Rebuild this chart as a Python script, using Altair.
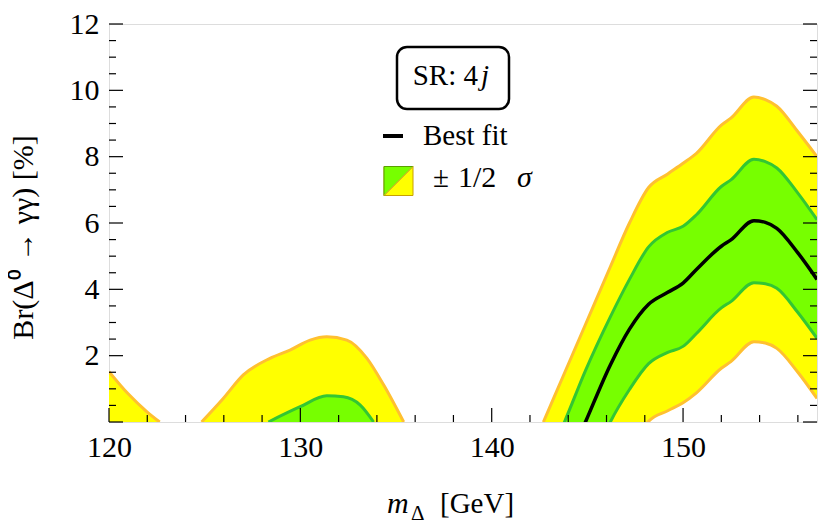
import altair as alt
import pandas as pd

# ---------------- data ----------------
# right-hand band region (common x grid)
xr = [142.7, 143.8, 144.9, 146.2, 147.2, 148.2, 149.2, 150.0, 150.7, 152.0, 152.5, 153.7, 154.3, 154.9, 156.0, 157.0]
ou_r = [0.0, 1.47, 2.94, 4.68, 6.0, 7.07, 7.48, 7.8, 8.1, 8.95, 9.16, 9.8, 9.72, 9.52, 8.75, 8.0]
iu_r = [-1.4, 0.0, 1.55, 3.17, 4.3, 5.28, 5.72, 5.9, 6.25, 7.1, 7.3, 7.92, 7.85, 7.66, 6.9, 6.1]
bf_r = [-2.8, -1.45, 0.0, 1.72, 2.8, 3.55, 3.91, 4.19, 4.6, 5.3, 5.49, 6.07, 6.02, 5.84, 5.1, 4.3]
il_r = [-4.5, -3.2, -1.8, 0.0, 0.98, 1.76, 2.1, 2.28, 2.67, 3.44, 3.63, 4.2, 4.17, 4.03, 3.3, 2.52]
ol_r = [-6.0, -4.9, -3.7, -2.0, -0.9, 0.02, 0.34, 0.58, 0.88, 1.62, 1.82, 2.42, 2.38, 2.22, 1.5, 0.71]

# left-most yellow sliver
xa = [120.0, 121.0, 122.0, 122.65]
ou_a = [1.52, 0.85, 0.3, 0.0]

# middle yellow bump
xb = [124.84, 125.97, 127.02, 128.41, 129.46, 130.51, 131.38, 132.43, 133.48, 134.35, 135.4]
ou_b = [0.0, 0.71, 1.42, 1.92, 2.17, 2.47, 2.57, 2.47, 1.92, 1.12, 0.0]

# middle green bump
xc = [128.33, 129.99, 131.38, 132.25, 133.13, 133.83]
iu_c = [0.0, 0.46, 0.79, 0.76, 0.51, 0.0]

# axis ticks / labels
x_labels = [120, 130, 140, 150]
x_major = [120, 130, 140, 150]
x_minor = [122, 124, 126, 128, 132, 134, 136, 138, 142, 144, 146, 148, 152, 154, 156]
y_labels = [2, 4, 6, 8, 10, 12]
y_major = [0, 2, 4, 6, 8, 10, 12]
y_minor = [0.5, 1, 1.5, 2.5, 3, 3.5, 4.5, 5, 5.5, 6.5, 7, 7.5, 8.5, 9, 9.5, 10.5, 11, 11.5]

# ---------------- styling ----------------
FONT = "Liberation Serif"
YELLOW = "#FFFF00"
ORANGE = "#FFC030"
GREEN_FILL = "#77FF00"
GREEN_LINE = "#33C633"
W, H = 708, 398

xs = alt.Scale(domain=[120, 157], nice=False, zero=False)
ys = alt.Scale(domain=[0, 12], nice=False, zero=False)
xaxis = alt.Axis(values=x_labels, title=None, ticks=False, domain=False, grid=False,
                 labelFont=FONT, labelFontSize=30, labelColor="black", labelPadding=25,
                 labelBaseline="middle", labelFlush=False, labelOverlap=False, format="d")
yaxis = alt.Axis(values=y_labels, title="Br(Δ⁰ → γγ) [%]", ticks=False, domain=False, grid=False,
                 labelFont=FONT, labelFontSize=30, labelColor="black", labelPadding=10,
                 labelBaseline="middle", labelFlush=False, labelOverlap=False, format="d",
                 titleFont=FONT, titleFontSize=30, titleFontWeight="normal", titleColor="black",
                 titleAngle=270, titleX=-86, titleY=213, titleAlign="center", titleBaseline="middle")


def X(f):
    return alt.X(f"{f}:Q", scale=xs, axis=xaxis)


def Y(f):
    return alt.Y(f"{f}:Q", scale=ys, axis=yaxis, stack=None)


def long(name, xv, yv):
    return pd.DataFrame({"curve": name, "x": xv, "val": yv})


right = pd.DataFrame({"x": xr, "ou": ou_r, "iu": iu_r, "bf": bf_r, "il": il_r, "ol": ol_r})
yellow_left = pd.concat([long("a", xa, ou_a), long("b", xb, ou_b)])
green_left = long("c", xc, iu_c)
orange_lines = pd.concat([long("a", xa, ou_a), long("b", xb, ou_b),
                          long("ru", xr, ou_r), long("rl", xr, ol_r)])
green_lines = pd.concat([long("c", xc, iu_c), long("ru", xr, iu_r), long("rl", xr, il_r)])

layers = []
layers.append(alt.Chart(yellow_left).mark_area(color=YELLOW, clip=True, interpolate="monotone")
              .encode(x=X("x"), y=Y("val"), detail="curve:N"))
layers.append(alt.Chart(right).mark_area(color=YELLOW, clip=True, interpolate="monotone")
              .encode(x=X("x"), y=Y("ou"), y2="ol:Q"))
layers.append(alt.Chart(green_left).mark_area(color=GREEN_FILL, clip=True, interpolate="monotone")
              .encode(x=X("x"), y=Y("val"), detail="curve:N"))
layers.append(alt.Chart(right).mark_area(color=GREEN_FILL, clip=True, interpolate="monotone")
              .encode(x=X("x"), y=Y("iu"), y2="il:Q"))
layers.append(alt.Chart(orange_lines).mark_line(color=ORANGE, strokeWidth=3, clip=True, interpolate="monotone")
              .encode(x=X("x"), y=Y("val"), detail="curve:N"))
layers.append(alt.Chart(green_lines).mark_line(color=GREEN_LINE, strokeWidth=3, clip=True, interpolate="monotone")
              .encode(x=X("x"), y=Y("val"), detail="curve:N"))
layers.append(alt.Chart(right).mark_line(color="black", strokeWidth=3.5, clip=True, interpolate="monotone")
              .encode(x=X("x"), y=Y("bf")))

# inward ticks
for vals, ln in ((x_major, 14), (x_minor, 7)):
    layers.append(alt.Chart(pd.DataFrame({"v": vals})).mark_rule(color="black", strokeWidth=1.2)
                  .encode(x=X("v"), y=alt.value(H), y2=alt.value(H - ln)))
for vals, ln in ((y_major, 14), (y_minor, 7)):
    d = pd.DataFrame({"v": vals})
    layers.append(alt.Chart(d).mark_rule(color="black", strokeWidth=1.2)
                  .encode(y=Y("v"), x=alt.value(0), x2=alt.value(ln)))
    layers.append(alt.Chart(d).mark_rule(color="black", strokeWidth=1.2)
                  .encode(y=Y("v"), x=alt.value(W), x2=alt.value(W - ln)))

one = pd.DataFrame({"a": [0]})


def txt(s, x, y, size=28, align="left", style="normal"):
    return alt.Chart(one).mark_text(text=s, font=FONT, fontSize=size, align=align,
                                    baseline="alphabetic", color="black", fontStyle=style) \
        .encode(x=alt.value(x), y=alt.value(y))


# x-axis title  m_Δ [GeV]
layers.append(txt("m", 278, 489, 30, style="italic"))
layers.append(txt("Δ", 302, 496, 21))
layers.append(txt("[GeV]", 331, 489, 29))

# framed label
layers.append(alt.Chart(one).mark_rect(cornerRadius=10, fill="white", stroke="black", strokeWidth=2.5)
              .encode(x=alt.value(288), x2=alt.value(400), y=alt.value(23), y2=alt.value(85)))
layers.append(txt("SR: 4", 369, 61, 29, align="right"))
layers.append(txt("j", 372, 61, 29, style="italic"))

# legend
layers.append(alt.Chart(one).mark_rule(color="black", strokeWidth=4)
              .encode(x=alt.value(274), x2=alt.value(294), y=alt.value(112)))
layers.append(txt("Best fit", 314, 121, 29))
layers.append(alt.Chart(one).mark_point(shape="square", size=841, filled=True, fill=YELLOW,
                                        stroke="#C8A000", strokeWidth=1, opacity=1)
              .encode(x=alt.value(289.5), y=alt.value(157)))
layers.append(alt.Chart(one).mark_point(shape="M-1,-1L1,-1L-1,1Z", size=841, filled=True,
                                        fill=GREEN_FILL, stroke="#5AA000", strokeWidth=1, opacity=1)
              .encode(x=alt.value(289.5), y=alt.value(157)))
layers.append(alt.Chart(one).mark_rule(color=ORANGE, strokeWidth=1)
              .encode(x=alt.value(275), y=alt.value(171.5), x2=alt.value(304), y2=alt.value(142.5)))
layers.append(txt("±", 324, 163, 29))
layers.append(txt("1/2", 349, 163, 30))
layers.append(txt("σ", 408, 163, 30, style="italic"))

chart = alt.layer(*layers).properties(
    width=W, height=H,
    autosize=alt.AutoSizeParams(type="none"),
    padding={"left": 101, "top": 16, "right": 5, "bottom": 100},
).configure_view(stroke="#777777", strokeWidth=1.2).configure(background="white")

chart.save("out.html", embed_options={"renderer": "svg", "actions": False})
